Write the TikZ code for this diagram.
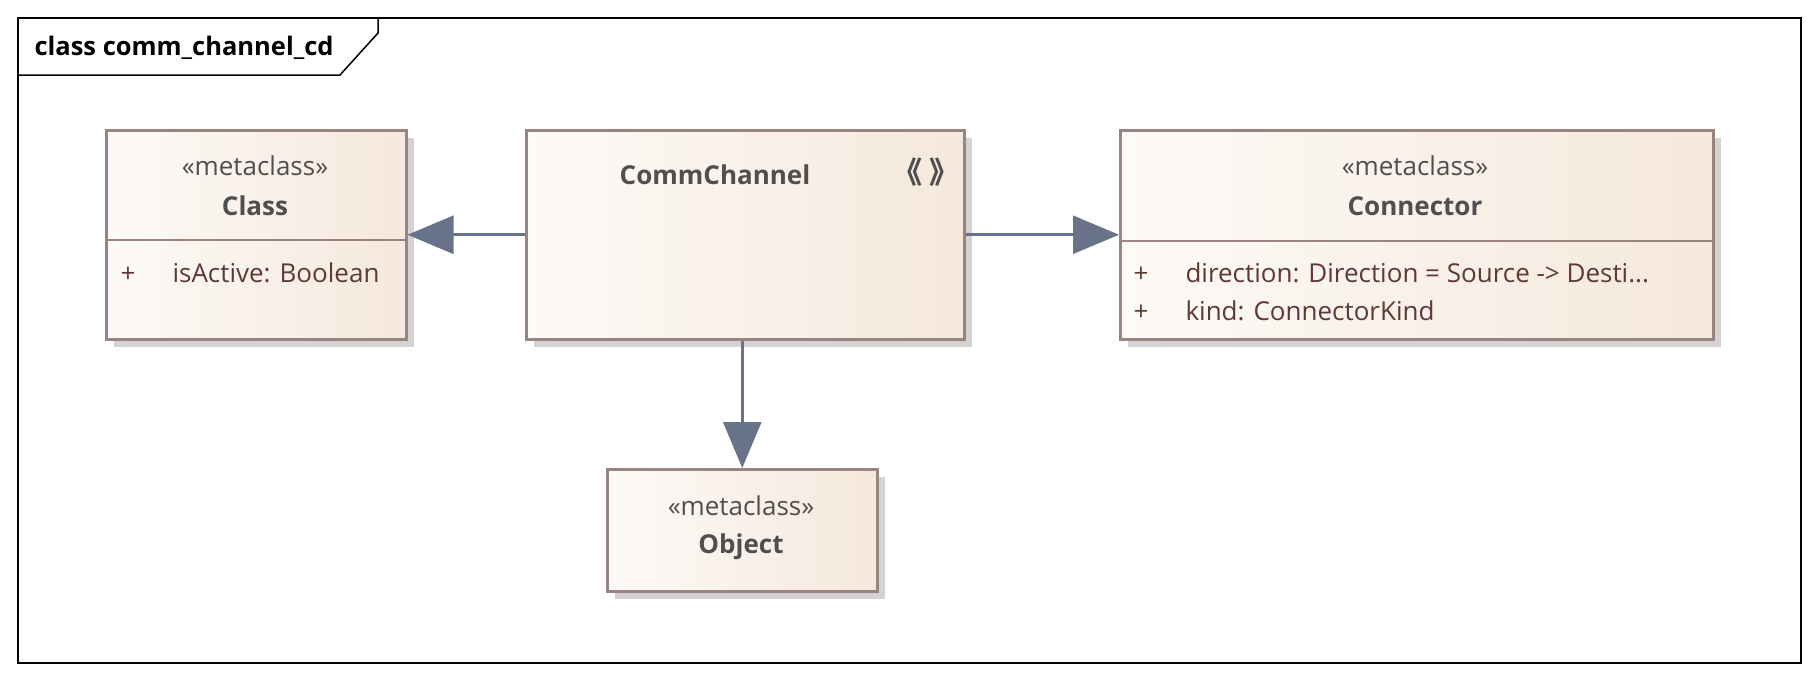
\documentclass[tikz,border=0pt]{standalone}
\usepackage{fontspec}
\setmainfont{Open Sans}
\newfontfamily\cjkfont{Noto Sans CJK SC}
\usetikzlibrary{arrows.meta,shadows}

\definecolor{boxline}{HTML}{9A8480}
\definecolor{boxleft}{HTML}{FDFAF7}
\definecolor{boxright}{HTML}{F5E8DC}
\definecolor{linkcol}{HTML}{687389}
\definecolor{headtext}{HTML}{4F4F4F}
\definecolor{attrtext}{HTML}{5E3A32}
\definecolor{shadowcol}{HTML}{D3D3D3}
\newcommand\umlfont{\fontsize{26}{30}\selectfont}

\begin{document}
\begin{tikzpicture}[x=1pt, y=-1pt,
    classbox/.style={draw=boxline, line width=2.5pt, left color=boxleft, right color=boxright,
      anchor=north west, inner sep=0pt,
      drop shadow={shadow xshift=8pt, shadow yshift=-8pt, fill=shadowcol, opacity=1}},
    divider/.style={draw=boxline, line width=2.5pt},
    stereo/.style={anchor=base, text=headtext, font=\umlfont},
    cname/.style={anchor=base, text=headtext, font=\umlfont\bfseries},
    attr/.style={anchor=base west, text=attrtext, font=\umlfont},
    vis/.style={anchor=base, text=attrtext, font=\umlfont},
    gen/.style={draw=linkcol, line width=2.7pt, -{Triangle[length=46pt, width=38pt, fill=linkcol]}},
  ]
    \useasboundingbox (0,0) rectangle (1818,681);

    \draw[line width=1.5pt] (18,18) rectangle (1801,663);
    \node[anchor=base west, font=\fontsize{25.5}{30}\selectfont\bfseries] (title) at (31,55) {class comm\_channel\_cd};
    \draw[line width=1.5pt] (18,75) -- (340,75) -- (378,33) -- (378,18);

    \node[classbox, minimum width=300pt, minimum height=209pt] (cls) at (105,129) {};
    \node[classbox, minimum width=438pt, minimum height=209pt] (chan) at (525,129) {};
    \node[classbox, minimum width=593pt, minimum height=209pt] (conn) at (1119,129) {};
    \node[classbox, minimum width=270pt, minimum height=122pt] (obj) at (606,468) {};

    \draw[divider] (cls.west |- 0,240) -- (cls.east |- 0,240);
    \draw[divider] (conn.west |- 0,241) -- (conn.east |- 0,241);

    \node[stereo] (clsst) at (255,175) {«metaclass»};
    \node[cname] (clsnm) at (255,215) {Class};
    \node[vis] (clsv) at (128,282) {+};
    \node[attr] (clsat) at (169,282) {isActive: Boolean};

    \node[cname] (channm) at (715,184) {CommChannel};
    \node[anchor=center, text=headtext, font=\fontsize{30}{34}\cjkfont\bfseries] (chanic) at (926,172) {《\hspace{7pt}》};

    \node[stereo] (connst) at (1415,175) {«metaclass»};
    \node[cname] (connnm) at (1415,215) {Connector};
    \node[vis] (connv1) at (1141,282) {+};
    \node[attr] (conna1) at (1182,282) {direction: Direction = Source -> Desti...};
    \node[vis] (connv2) at (1141,320) {+};
    \node[attr] (conna2) at (1182,320) {kind: ConnectorKind};

    \node[stereo] (objst) at (741,515) {«metaclass»};
    \node[cname] (objnm) at (741,553) {Object};

    \draw[gen] (chan.west) -- (cls.east);
    \draw[gen] (chan.east) -- (conn.west);
    \draw[gen] (obj.north |- chan.south) -- (obj.north);
\end{tikzpicture}
\end{document}
